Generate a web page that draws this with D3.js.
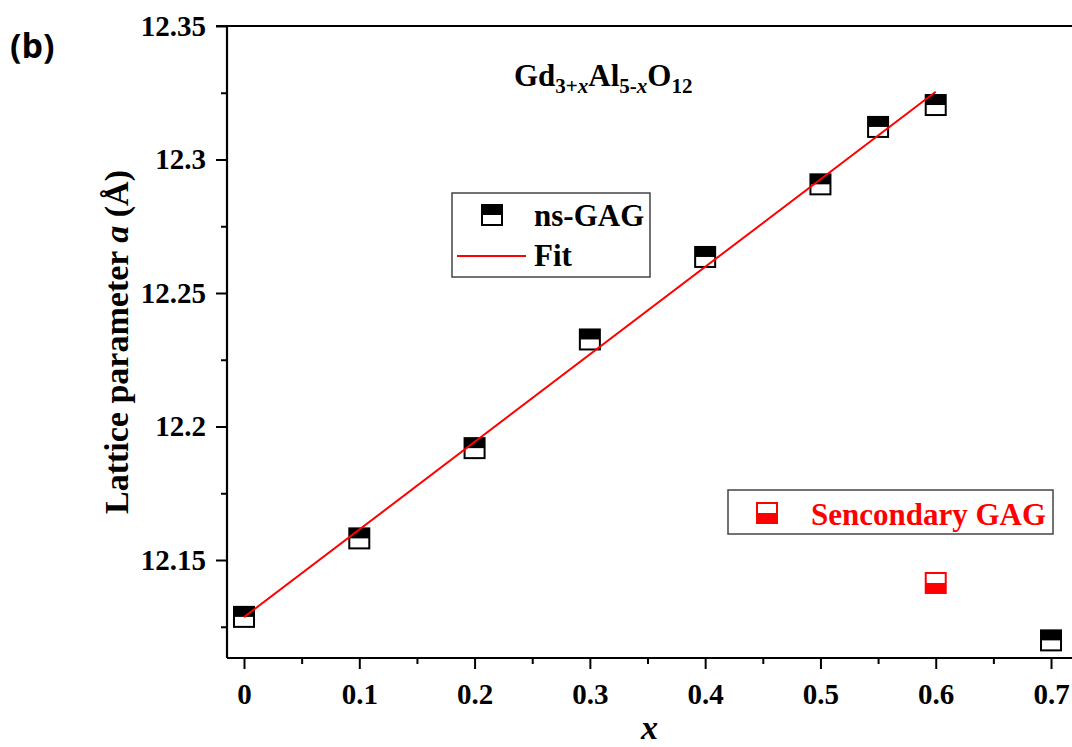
<!DOCTYPE html>
<html>
<head>
<meta charset="utf-8">
<script src="https://cdn.jsdelivr.net/npm/d3@7"></script>
<style>
  html, body { margin: 0; padding: 0; background: #fff; }
  svg { display: block; }
  text { font-family: "Liberation Serif", "Times New Roman", serif; font-weight: bold; }
</style>
</head>
<body>
<svg id="chart" width="1072" height="747"></svg>
<script>
// ---- data ----
const xValues = [0, 0.1, 0.2, 0.3, 0.4, 0.5, 0.55, 0.6, 0.7];
const latticeA = [12.1287, 12.1581, 12.1919, 12.2326, 12.2635, 12.2907, 12.3122, 12.3204, 12.1199];
const secondaryX = [0.6];
const secondaryA = [12.1414];
const fitX = [0, 0.6];
const fitA = [12.1286, 12.3254];
const xTicks = [0, 0.1, 0.2, 0.3, 0.4, 0.5, 0.6, 0.7];
const xMinorTicks = [0.05, 0.15, 0.25, 0.35, 0.45, 0.55, 0.65];
const yTicks = [12.15, 12.2, 12.25, 12.3, 12.35];
const yMinorTicks = [12.125, 12.175, 12.225, 12.275, 12.325];

const svg = d3.select("#chart");
const L = 227, R = 1072, T = 26, B = 658;

const x = d3.scaleLinear().domain([-0.01475, 0.7182]).range([L, R]);
const y = d3.scaleLinear().domain([12.1133, 12.35]).range([B, T]);

// axes
const gx = svg.append("g").attr("transform", `translate(0,${B})`)
  .call(d3.axisBottom(x).tickValues(xTicks).tickSize(11).tickPadding(14)
    .tickFormat(d => d === 0 ? "0" : d3.format(".1f")(d)));
const gxm = svg.append("g").attr("transform", `translate(0,${B})`)
  .call(d3.axisBottom(x).tickValues(xMinorTicks).tickSize(6).tickFormat(""));
const gy = svg.append("g").attr("transform", `translate(${L},0)`)
  .call(d3.axisLeft(y).tickValues(yTicks).tickSize(11).tickPadding(10)
    .tickFormat(d => d3.format("")(+d.toFixed(2))));
const gym = svg.append("g").attr("transform", `translate(${L},0)`)
  .call(d3.axisLeft(y).tickValues(yMinorTicks).tickSize(6).tickFormat(""));

[gx, gxm, gy, gym].forEach(g => {
  g.select(".domain").remove();
  g.selectAll(".tick line").attr("stroke", "#000").attr("stroke-width", 2);
  g.selectAll(".tick text").attr("fill", "#000")
    .style("font-family", "'Liberation Serif', serif").style("font-weight", "bold").style("font-size", "29px");
});

// frame lines
svg.append("line").attr("x1", L).attr("x2", R).attr("y1", B).attr("y2", B).attr("stroke", "#000").attr("stroke-width", 2.2);
svg.append("line").attr("x1", L).attr("x2", L).attr("y1", T).attr("y2", B).attr("stroke", "#000").attr("stroke-width", 2.2);
svg.append("line").attr("x1", L - 11).attr("x2", R).attr("y1", T).attr("y2", T).attr("stroke", "#000").attr("stroke-width", 2.2);

// fit line
const line = d3.line().x(d => x(d[0])).y(d => y(d[1]));
svg.append("path").datum(fitX.map((v, i) => [v, fitA[i]]))
  .attr("d", line).attr("fill", "none").attr("stroke", "#ff0000").attr("stroke-width", 2);

// markers
const S = 20;
function halfSquare(g, color, topFilled) {
  g.append("rect").attr("x", -S / 2).attr("y", -S / 2).attr("width", S).attr("height", S)
    .attr("fill", "#fff");
  g.append("rect").attr("x", -S / 2).attr("y", topFilled ? -S / 2 : 0).attr("width", S).attr("height", S / 2)
    .attr("fill", color);
  g.append("rect").attr("x", -S / 2).attr("y", -S / 2).attr("width", S).attr("height", S)
    .attr("fill", "none").attr("stroke", color).attr("stroke-width", 2);
}

const ptsGroup = svg.insert("g", "path");
xValues.forEach((v, i) => {
  const g = ptsGroup.append("g").attr("transform", `translate(${x(v)},${y(latticeA[i])})`);
  halfSquare(g, "#000", true);
});
secondaryX.forEach((v, i) => {
  const g = svg.append("g").attr("transform", `translate(${x(v)},${y(secondaryA[i])})`);
  halfSquare(g, "#ff0000", false);
});

// legend 1
svg.append("rect").attr("x", 452).attr("y", 193).attr("width", 198).attr("height", 84)
  .attr("fill", "none").attr("stroke", "#444").attr("stroke-width", 1.5);
halfSquare(svg.append("g").attr("transform", "translate(492,215)"), "#000", true);
svg.append("text").attr("x", 534).attr("y", 226).attr("font-size", 31).attr("fill", "#000").text("ns-GAG");
svg.append("line").attr("x1", 457).attr("x2", 526).attr("y1", 256).attr("y2", 256).attr("stroke", "#ff0000").attr("stroke-width", 2);
svg.append("text").attr("x", 534).attr("y", 266).attr("font-size", 31).attr("fill", "#000").text("Fit");

// legend 2
svg.append("rect").attr("x", 728).attr("y", 490).attr("width", 325).attr("height", 44)
  .attr("fill", "none").attr("stroke", "#444").attr("stroke-width", 1.5);
halfSquare(svg.append("g").attr("transform", "translate(767,513)"), "#ff0000", false);
svg.append("text").attr("x", 811).attr("y", 525).attr("font-size", 31).attr("fill", "#ff0000").text("Sencondary GAG");

// title formula
const title = svg.append("text").attr("x", 514).attr("y", 86).attr("font-size", 31).attr("fill", "#000");
title.append("tspan").text("Gd");
title.append("tspan").attr("font-size", 21).attr("dy", 7).text("3+");
title.append("tspan").attr("font-size", 21).attr("font-style", "italic").text("x");
title.append("tspan").attr("dy", -7).text("Al");
title.append("tspan").attr("font-size", 21).attr("dy", 7).text("5-");
title.append("tspan").attr("font-size", 21).attr("font-style", "italic").text("x");
title.append("tspan").attr("dy", -7).text("O");
title.append("tspan").attr("font-size", 21).attr("dy", 7).text("12");

// y label
const yl = svg.append("text").attr("transform", `translate(128,${(T + B) / 2}) rotate(-90)`)
  .attr("text-anchor", "middle").attr("font-size", 34).attr("fill", "#000");
yl.append("tspan").text("Lattice parameter ");
yl.append("tspan").attr("font-style", "italic").text("a");
yl.append("tspan").text(" (Å)");

// x label
svg.append("text").attr("x", (L + R) / 2).attr("y", 739).attr("text-anchor", "middle")
  .attr("font-size", 34).attr("font-style", "italic").attr("fill", "#000").text("x");

// panel label
svg.append("text").attr("x", 10).attr("y", 58).attr("font-size", 34)
  .style("font-family", "'Open Sans', 'Noto Sans', sans-serif").style("font-weight", "bold")
  .attr("fill", "#000").text("(b)");
</script>
</body>
</html>
